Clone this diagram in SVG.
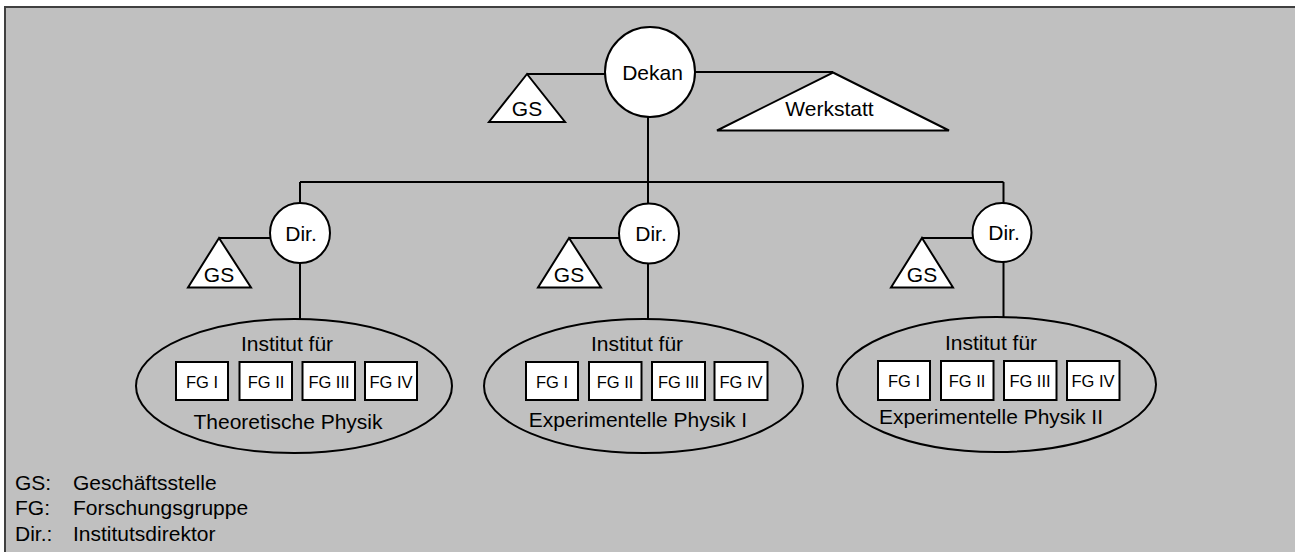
<svg xmlns="http://www.w3.org/2000/svg" width="1295" height="552" viewBox="0 0 1295 552">
<style>
.bg{fill:#c0c0c0;stroke:#404040;stroke-width:2}
.shape{fill:#ffffff;stroke:#000000;stroke-width:2}
.ell{fill:none;stroke:#000000;stroke-width:2}
.line{fill:none;stroke:#000000;stroke-width:2}
text{font-family:"Liberation Sans",Arial,sans-serif;fill:#000000}
.t{font-size:21px;text-anchor:middle}
.fg{font-size:16.5px;text-anchor:middle}
.lg{font-size:21px}
</style>
<rect x="0" y="0" width="1295" height="552" fill="#ffffff"/>
<rect class="bg" x="5" y="7" width="1300" height="560"/>

<g id="connectors">
<path class="line" d="M527,74 H605"/>
<path class="line" d="M695,72 H833"/>
<path class="line" d="M648,117 V203"/>
<path class="line" d="M300,182 H1003.5"/>
<path class="line" d="M300,182 V203"/>
<path class="line" d="M1003.5,182 V203"/>
<path class="line" d="M219,238 H270"/>
<path class="line" d="M569,238 H619"/>
<path class="line" d="M922,238 H973"/>
<path class="line" d="M300,263 V319"/>
<path class="line" d="M648,264 V319"/>
<path class="line" d="M1003.5,262 V317"/>
</g>

<g id="dekan">
<circle class="shape" cx="650" cy="72" r="45"/>
<text class="t" x="652.5" y="79.5">Dekan</text>
</g>
<g id="gs-top">
<polygon class="shape" points="527,74 565,122 489,122"/>
<text class="t" x="527" y="115.5">GS</text>
</g>
<g id="werkstatt">
<polygon class="shape" points="833,72.5 949,130.5 717,130.5"/>
<text class="t" x="829.5" y="116">Werkstatt</text>
</g>

<g id="dir-1">
<circle class="shape" cx="300" cy="233" r="30"/>
<text class="t" x="301" y="240.5">Dir.</text>
</g>
<g id="gs-1">
<polygon class="shape" points="219,238 251,287.5 188,287.5"/>
<text class="t" x="219" y="282">GS</text>
</g>
<g id="dir-2">
<circle class="shape" cx="649" cy="233.5" r="30"/>
<text class="t" x="651" y="240.5">Dir.</text>
</g>
<g id="gs-2">
<polygon class="shape" points="569,238 601,287.5 538,287.5"/>
<text class="t" x="569" y="282">GS</text>
</g>
<g id="dir-3">
<circle class="shape" cx="1002" cy="232.5" r="29.5"/>
<text class="t" x="1004" y="240">Dir.</text>
</g>
<g id="gs-3">
<polygon class="shape" points="922,238 953,287.5 891,287.5"/>
<text class="t" x="922" y="281.5">GS</text>
</g>

<g id="institut-1">
<ellipse class="ell" cx="294" cy="386" rx="158" ry="67"/>
<text class="t" x="287" y="350.5">Institut für</text>
<rect class="shape" x="176" y="362" width="52" height="38"/>
<rect class="shape" x="239.5" y="362" width="52.5" height="38"/>
<rect class="shape" x="302.5" y="362" width="52.5" height="38"/>
<rect class="shape" x="365" y="362" width="52" height="38"/>
<text class="fg" x="202" y="387.5">FG I</text>
<text class="fg" x="266" y="387.5">FG II</text>
<text class="fg" x="329" y="387.5">FG III</text>
<text class="fg" x="391" y="387.5">FG IV</text>
<text class="t" x="288" y="428.5">Theoretische Physik</text>
</g>

<g id="institut-2">
<ellipse class="ell" cx="643.5" cy="386" rx="159.5" ry="67"/>
<text class="t" x="637" y="350.5">Institut für</text>
<rect class="shape" x="526" y="362" width="52" height="38"/>
<rect class="shape" x="589" y="362" width="52.5" height="38"/>
<rect class="shape" x="652" y="362" width="53" height="38"/>
<rect class="shape" x="714.5" y="362" width="53" height="38"/>
<text class="fg" x="552" y="387.5">FG I</text>
<text class="fg" x="615" y="387.5">FG II</text>
<text class="fg" x="678.5" y="387.5">FG III</text>
<text class="fg" x="741" y="387.5">FG IV</text>
<text class="t" x="638" y="426.5">Experimentelle Physik I</text>
</g>

<g id="institut-3">
<ellipse class="ell" cx="996.5" cy="384.5" rx="159.5" ry="67.5"/>
<text class="t" x="991" y="349.5">Institut für</text>
<rect class="shape" x="878" y="361" width="52" height="39"/>
<rect class="shape" x="941" y="361" width="52.5" height="39"/>
<rect class="shape" x="1004" y="361" width="52.5" height="39"/>
<rect class="shape" x="1067" y="361" width="52.5" height="39"/>
<text class="fg" x="904" y="387">FG I</text>
<text class="fg" x="967" y="387">FG II</text>
<text class="fg" x="1030" y="387">FG III</text>
<text class="fg" x="1093" y="387">FG IV</text>
<text class="t" x="991" y="424">Experimentelle Physik II</text>
</g>

<g id="legend">
<text class="lg" x="15" y="489.5">GS:</text>
<text class="lg" x="73" y="489.5">Geschäftsstelle</text>
<text class="lg" x="15" y="515">FG:</text>
<text class="lg" x="73" y="515">Forschungsgruppe</text>
<text class="lg" x="15" y="541">Dir.:</text>
<text class="lg" x="73" y="541">Institutsdirektor</text>
</g>
</svg>
